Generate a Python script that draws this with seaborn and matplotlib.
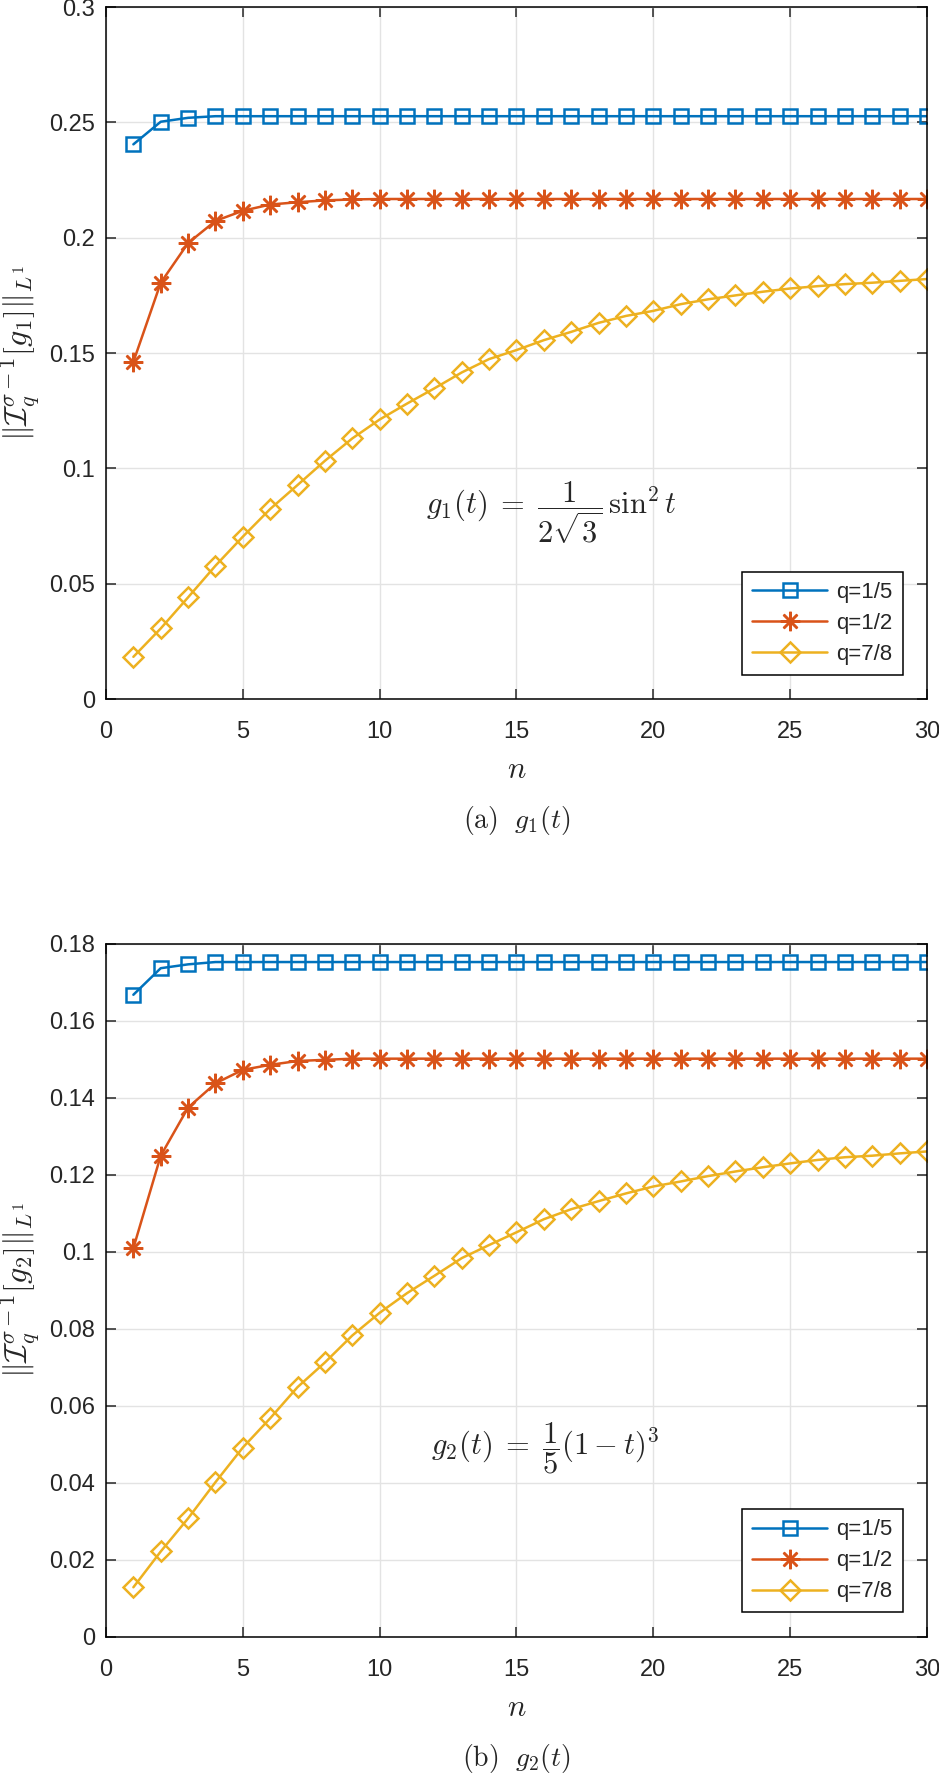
import numpy as np
import pandas as pd
import matplotlib
matplotlib.use("Agg")
import matplotlib.pyplot as plt
import seaborn as sns
from matplotlib.ticker import FuncFormatter

# data
n = list(range(1, 31))
labels = ["q=1/5", "q=1/2", "q=7/8"]

g1_q15 = [0.2405, 0.2503, 0.2520] + [0.2527] * 27
g1_q12 = [0.1462, 0.1805, 0.1977, 0.2073, 0.2117, 0.2144, 0.2154, 0.2162, 0.2166] + [0.2168] * 21
g1_q78 = [0.0183, 0.0306, 0.0441, 0.0578, 0.0704, 0.0824, 0.0928, 0.1033, 0.1130, 0.1212,
          0.1281, 0.1347, 0.1416, 0.1474, 0.1513, 0.1556, 0.1592, 0.1631, 0.1661, 0.1683,
          0.1712, 0.1733, 0.1750, 0.1766, 0.1780, 0.1790, 0.1799, 0.1805, 0.1813, 0.1821]

g2_q15 = [0.1668, 0.1737, 0.1747] + [0.1753] * 27
g2_q12 = [0.1010, 0.1250, 0.1375, 0.1438, 0.1473, 0.1486, 0.1496, 0.1499] + [0.1502] * 22
g2_q78 = [0.0129, 0.0222, 0.0308, 0.0402, 0.0492, 0.0568, 0.0649, 0.0713, 0.0783, 0.0842,
          0.0893, 0.0938, 0.0984, 0.1018, 0.1051, 0.1085, 0.1111, 0.1132, 0.1152, 0.1170,
          0.1183, 0.1197, 0.1209, 0.1220, 0.1230, 0.1239, 0.1246, 0.1250, 0.1256, 0.1261]

sns.set_style("ticks")
plt.rcParams['font.family'] = ['Liberation Sans', 'DejaVu Sans']
plt.rcParams['mathtext.fontset'] = 'cm'

colors = ['#0072BD', '#D95319', '#EDB120']
markers = ['s', (8, 2, 0), 'D']
msizes = [9.5, 14, 10]

fig = plt.figure(figsize=(9.39, 17.76), dpi=100)
ax1 = fig.add_axes([0.1129, 0.6064, 0.8743, 0.3896])
ax2 = fig.add_axes([0.1129, 0.0783, 0.8743, 0.3902])


def draw(ax, series, ymax, ystep, ylabel, formula, fx, fy, caption):
    df = pd.DataFrame({'n': n * 3,
                       'val': series[0] + series[1] + series[2],
                       'q': sum([[lab] * len(n) for lab in labels], [])})
    for i, lab in enumerate(labels):
        sns.lineplot(data=df[df['q'] == lab], x='n', y='val', ax=ax, label=lab,
                     color=colors[i], linewidth=1.8, marker=markers[i],
                     markersize=msizes[i], markerfacecolor='none',
                     markeredgecolor=colors[i], markeredgewidth=1.8)
    ax.set_xlim(0, 30)
    ax.set_ylim(0, ymax)
    ax.set_xticks(np.arange(0, 31, 5))
    ax.set_yticks(np.arange(0, ymax + 1e-9, ystep))
    ax.yaxis.set_major_formatter(FuncFormatter(lambda v, p: f"{round(v, 4):g}"))
    ax.grid(True, color='#e3e3e3', linewidth=1.0)
    ax.set_axisbelow(True)
    for s in ax.spines.values():
        s.set_linewidth(1.1)
        s.set_color('black')
    ax.tick_params(direction='in', top=True, right=True, length=7, width=1.1,
                   labelsize=17)
    ax.tick_params(axis='x', pad=16)
    ax.tick_params(axis='y', pad=8)
    ax.set_xlabel(r'$n$', fontsize=22)
    ax.xaxis.set_label_coords(0.5, -0.081)
    ax.set_ylabel(ylabel, fontsize=23)
    ax.yaxis.set_label_coords(-0.078, 0.5)
    ax.text(fx, fy, formula, fontsize=22, ha='center', va='center')
    leg = ax.legend(loc='lower right', fontsize=16, handlelength=3.4,
                    frameon=True, fancybox=False, framealpha=1,
                    edgecolor='black', borderaxespad=1.1, labelspacing=0.45,
                    handletextpad=0.4, borderpad=0.45)
    leg.get_frame().set_linewidth(1.1)
    ax.text(0.5, -0.175, caption, transform=ax.transAxes, fontsize=20,
            ha='center', va='center')


draw(ax1, [g1_q15, g1_q12, g1_q78], 0.3, 0.05,
     r'$\Vert\mathcal{I}_q^{\sigma-1}[g_1]\Vert_{L^1}$',
     r'$g_1(t)\;=\;\dfrac{1}{2\sqrt{3}}\,\sin^2 t$', 16.26, 0.0806,
     r'$\mathrm{(a)}\ \ g_1(t)$')
draw(ax2, [g2_q15, g2_q12, g2_q78], 0.18, 0.02,
     r'$\Vert\mathcal{I}_q^{\sigma-1}[g_2]\Vert_{L^1}$',
     r'$g_2(t)\;=\;\dfrac{1}{5}(1-t)^3$', 16.04, 0.0491,
     r'$\mathrm{(b)}\ \ g_2(t)$')

plt.savefig('out.png', dpi=100)
plt.close()
